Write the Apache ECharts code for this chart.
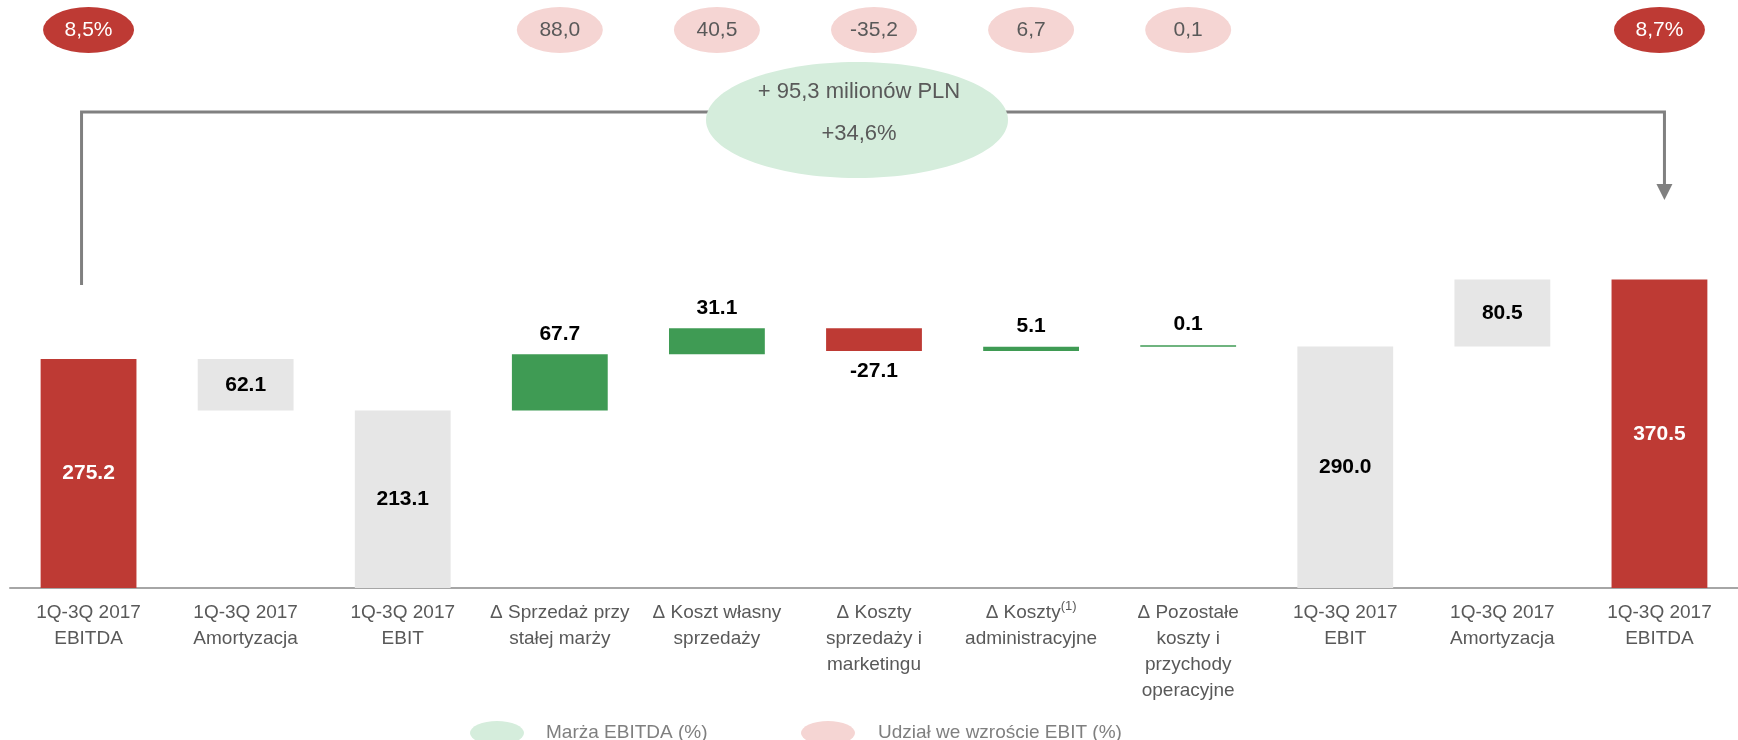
<!DOCTYPE html>
<html>
<head>
<meta charset="utf-8">
<script src="https://cdn.jsdelivr.net/npm/echarts@6/dist/echarts.min.js"></script>
<style>
html,body{margin:0;padding:0;background:#fff;}
#chart{width:1738px;height:740px;}
</style>
</head>
<body>
<div id="chart"></div>
<script>
// ---- data ----
const categories = [
  '1Q-3Q 2017\nEBITDA',
  '1Q-3Q 2017\nAmortyzacja',
  '1Q-3Q 2017\nEBIT',
  'Δ Sprzedaż przy\nstałej marży',
  'Δ Koszt własny\nsprzedaży',
  'Δ Koszty\nsprzedaży i\nmarketingu',
  'Δ Koszty{sup|(1)}\nadministracyjne',
  'Δ Pozostałe\nkoszty i\nprzychody\noperacyjne',
  '1Q-3Q 2017\nEBIT',
  '1Q-3Q 2017\nAmortyzacja',
  '1Q-3Q 2017\nEBITDA'
];
const barValues = [275.2, -62.1, 213.1, 67.7, 31.1, -27.1, 5.1, 0.1, 290.0, 80.5, 370.5];
const barKinds  = ['ebitda','amort','ebit','delta','delta','delta','delta','delta','ebit','amort','ebitda'];

const marginCats = [0, 10];
const marginValues = [8.5, 8.7];           // Marża EBITDA (%)
const shareCats = [3, 4, 5, 6, 7];
const shareValues = [88.0, 40.5, -35.2, 6.7, 0.1]; // Udział we wzroście EBIT (%)

const summaryLines = ['+ 95,3 milionów PLN', '+34,6%'];
const legendNames = ['Marża EBITDA (%)', 'Udział we wzroście EBIT (%)'];

// ---- styles ----
const RED = '#BE3A34', GREEN = '#3F9B54', GRAY = '#E6E6E6';
const PINK = '#F5D5D3', LGREEN = '#D5EDDC', TXT = '#595959';
const FONT = '"Liberation Sans", Arial, sans-serif';
const ELLIPSE = 'path://M0,50 A50,50 0 1,1 100,50 A50,50 0 1,1 0,50 Z';

// waterfall bases
const bases = [], heights = [];
let running = 0;
barValues.forEach((v, i) => {
  if (barKinds[i] === 'ebitda' || barKinds[i] === 'ebit') {
    bases.push(0); heights.push(v); running = v;
  } else {
    bases.push(v >= 0 ? running : running + v);
    heights.push(Math.abs(v));
    running += v;
  }
});

function barColor(i) {
  const k = barKinds[i];
  if (k === 'ebitda') return RED;
  if (k === 'ebit' || k === 'amort') return GRAY;
  return barValues[i] >= 0 ? GREEN : RED;
}

const barData = heights.map((h, i) => {
  const k = barKinds[i];
  const inside = k !== 'delta';
  const txt = (k === 'amort' ? Math.abs(barValues[i]) : barValues[i]).toFixed(1);
  return {
    value: h,
    itemStyle: { color: barColor(i) },
    label: {
      show: true,
      formatter: txt,
      position: inside ? 'inside' : (barValues[i] >= 0 ? 'top' : 'bottom'),
      distance: 10,
      color: k === 'ebitda' ? '#FFFFFF' : '#000000'
    }
  };
});

const fmt = v => v.toFixed(1).replace('.', ',');

const chart = echarts.init(document.getElementById('chart'));
chart.setOption({
  animation: false,
  textStyle: { fontFamily: FONT },
  grid: [
    { left: 10, width: 1730, top: 255, height: 333 },
    { left: 10, width: 1730, top: 8, height: 44 }
  ],
  legend: [
    {
      left: 465, top: 716, itemWidth: 54, itemHeight: 24, icon: ELLIPSE,
      symbolKeepAspect: false, selectedMode: false,
      data: [{ name: legendNames[0], itemStyle: { color: LGREEN } }],
      textStyle: { fontSize: 19, color: '#7F7F7F', fontFamily: FONT, padding: [0, 0, 0, 17] }
    },
    {
      left: 796, top: 716, itemWidth: 54, itemHeight: 24, icon: ELLIPSE,
      symbolKeepAspect: false, selectedMode: false,
      data: [{ name: legendNames[1], itemStyle: { color: PINK } }],
      textStyle: { fontSize: 19, color: '#7F7F7F', fontFamily: FONT, padding: [0, 0, 0, 18] }
    }
  ],
  xAxis: [
    {
      type: 'category', gridIndex: 0, data: categories,
      axisLine: { lineStyle: { color: '#A6A6A6', width: 2 } },
      axisTick: { show: false },
      axisLabel: {
        interval: 0, margin: 12, fontSize: 19, lineHeight: 26, color: TXT, fontFamily: FONT,
        rich: { sup: { fontSize: 13, lineHeight: 4, verticalAlign: 'top', color: TXT, fontFamily: FONT } }
      }
    },
    { type: 'category', gridIndex: 1, data: categories, show: false }
  ],
  yAxis: [
    { type: 'value', gridIndex: 0, min: 0, max: 400, show: false, splitLine: { show: false } },
    { type: 'value', gridIndex: 1, min: -1, max: 1, show: false, splitLine: { show: false } }
  ],
  series: [
    {
      name: 'base', type: 'bar', stack: 'wf', silent: true,
      barWidth: '61%',
      itemStyle: { color: 'transparent' },
      data: bases
    },
    {
      name: 'wartość', type: 'bar', stack: 'wf', barWidth: '61%', barMinHeight: 1.5,
      label: { fontSize: 21, fontWeight: 'bold', fontFamily: FONT },
      data: barData
    },
    {
      name: legendNames[0], type: 'scatter', xAxisIndex: 1, yAxisIndex: 1,
      symbol: ELLIPSE, symbolSize: [91, 46],
      itemStyle: { color: RED, opacity: 1 },
      label: {
        show: true, position: 'inside', color: '#FFFFFF', fontSize: 21, fontFamily: FONT,
        formatter: p => fmt(p.value[2]) + '%'
      },
      data: marginValues.map((v, i) => [marginCats[i], 0, v])
    },
    {
      name: legendNames[1], type: 'scatter', xAxisIndex: 1, yAxisIndex: 1,
      symbol: ELLIPSE, symbolSize: [86, 46],
      itemStyle: { color: PINK, opacity: 1 },
      label: {
        show: true, position: 'inside', color: TXT, fontSize: 21, fontFamily: FONT,
        formatter: p => fmt(p.value[2])
      },
      data: shareValues.map((v, i) => [shareCats[i], 0, v])
    }
  ]
});

// annotation: bracket with arrow and summary ellipse
const xL = chart.convertToPixel({ xAxisIndex: 0 }, 0) - 7;
const xR = chart.convertToPixel({ xAxisIndex: 0 }, 10) + 5;
const yTop = 112;
const lineCol = '#808080';
chart.setOption({
  graphic: [
    {
      type: 'polyline', z: 10,
      shape: { points: [[xL, 285], [xL, yTop], [xR, yTop], [xR, 186]] },
      style: { stroke: lineCol, lineWidth: 3, fill: null }
    },
    {
      type: 'polygon', z: 10,
      shape: { points: [[xR - 8, 184], [xR + 8, 184], [xR, 200]] },
      style: { fill: lineCol }
    },
    {
      type: 'ellipse', z: 11,
      shape: { cx: 857, cy: 120, rx: 151, ry: 58 },
      style: { fill: LGREEN }
    },
    {
      type: 'text', z: 12, x: 859, y: 92,
      style: { text: summaryLines[0], fill: TXT, font: '22px ' + FONT, align: 'center', verticalAlign: 'middle' }
    },
    {
      type: 'text', z: 12, x: 859, y: 134,
      style: { text: summaryLines[1], fill: TXT, font: '22px ' + FONT, align: 'center', verticalAlign: 'middle' }
    }
  ]
});
</script>
</body>
</html>
